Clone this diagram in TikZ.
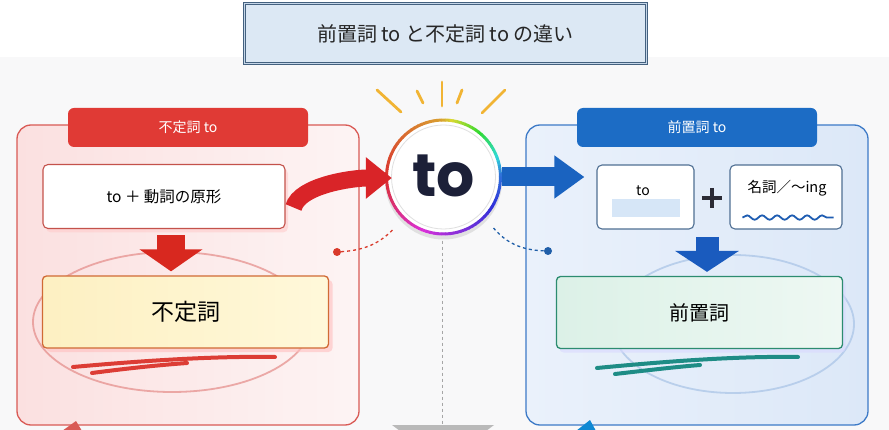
\documentclass[tikz,border=0pt]{standalone}
\usepackage{fontspec}
\usepackage{tikz}
\usepackage{xcolor}
\usetikzlibrary{positioning,shapes,shadows,arrows.meta,calc,decorations.pathmorphing}
\setmainfont{Noto Sans CJK JP}
\newfontfamily\tofont{Poppins}
\definecolor{bgc}{HTML}{F8F8F9}
\definecolor{titlefill}{HTML}{DCE8F4}
\definecolor{titleline}{HTML}{44617F}
\definecolor{titlein}{HTML}{C5D6E8}
\definecolor{lpanA}{HTML}{FBE0E0}
\definecolor{lpanB}{HTML}{FDF4F4}
\definecolor{lpanline}{HTML}{D95A55}
\definecolor{ltabc}{HTML}{E03A35}
\definecolor{lboxline}{HTML}{C4524B}
\definecolor{yellowA}{HTML}{FDF0C2}
\definecolor{yellowB}{HTML}{FFF8DA}
\definecolor{yline}{HTML}{D06A35}
\definecolor{rpanA}{HTML}{EAF1FB}
\definecolor{rpanB}{HTML}{DCE8F8}
\definecolor{rpanline}{HTML}{3D7AC7}
\definecolor{rtabc}{HTML}{1C6CC5}
\definecolor{bboxline}{HTML}{4F6F93}
\definecolor{barc}{HTML}{D6E6F7}
\definecolor{wavec}{HTML}{1F5DB2}
\definecolor{plusc}{HTML}{2B2B35}
\definecolor{greenA}{HTML}{DCF1E7}
\definecolor{greenB}{HTML}{EEF8F3}
\definecolor{greenline}{HTML}{2C8C70}
\definecolor{reddownc}{HTML}{D8281F}
\definecolor{bluedownc}{HTML}{1A5BBE}
\definecolor{redarrowc}{HTML}{D92428}
\definecolor{bluearrowc}{HTML}{1A63C0}
\definecolor{tonavy}{HTML}{1C2038}
\definecolor{rayc}{HTML}{F1B434}
\definecolor{reddotc}{HTML}{D93A2B}
\definecolor{bluedotc}{HTML}{1F5EA8}
\definecolor{tealc}{HTML}{1E8C85}

\begin{document}
\begin{tikzpicture}[x=1pt,y=1pt]
\tikzstyle{every node}+=[inner sep=0pt]
\tikzstyle{titlebox}=[draw=titleline,double=titlein,double distance=0.8pt,line width=1pt,fill=titlefill,minimum width=402,minimum height=60,font=\fontsize{20}{24}\selectfont,text=black!85]
\tikzstyle{panel}=[draw,rounded corners=14pt,line width=1.3pt,minimum width=342,minimum height=300]
\tikzstyle{tab}=[rounded corners=6pt,minimum width=240,minimum height=39,text=white,font=\fontsize{14}{16}\selectfont]
\tikzstyle{card}=[draw,fill=white,rounded corners=5pt,line width=1.1pt]
\tikzstyle{resultbox}=[draw,rounded corners=4pt,line width=1.3pt,minimum width=286,minimum height=72]
\tikzstyle{dot}=[circle,minimum size=8]
\tikzstyle{ray}=[rayc,line width=2.8pt,line cap=round]
\tikzstyle{stroke}=[line width=4pt,line cap=round]
\useasboundingbox (0,0) rectangle (889,-430);
\fill[bgc] (0,-57) rectangle (889,-430);
\node[titlebox] (title) at (445.5,-33.5) {前置詞 to と不定詞 to の違い};
\node[panel,draw=lpanline,left color=lpanA,right color=lpanB] (lpanel) at (188,-275) {};
\node[panel,draw=rpanline,left color=rpanA,right color=rpanB] (rpanel) at (697,-275) {};
\node[tab,fill=ltabc] (ltab) at (188,-127.5) {不定詞 to};
\node[tab,fill=rtabc] (rtab) at (697,-127.5) {前置詞 to};
\draw[lpanline!70,line width=1.8pt,opacity=0.7] (172,-322) ellipse [x radius=139, y radius=70];
\draw[rpanline!45,line width=1.8pt,opacity=0.7] (733,-324) ellipse [x radius=121, y radius=69];
\draw[stroke,reddownc!90] (73,-367) .. controls (150,-360) and (220,-356) .. (275,-357);
\draw[stroke,reddownc!90] (92,-373) .. controls (130,-368) and (160,-365) .. (187,-363);
\draw[stroke,tealc] (597,-368) .. controls (670,-361) and (740,-356) .. (798,-357);
\draw[stroke,tealc] (615,-374) .. controls (650,-370) and (675,-367) .. (700,-365);
\node[card,draw=lboxline,minimum width=242,minimum height=64,font=\fontsize{15.5}{18}\selectfont,drop shadow={shadow xshift=3pt,shadow yshift=-4pt,fill=red!20,opacity=0.6}] (leftbox) at (164,-196.5) {to ＋ 動詞の原形};
\node[resultbox,draw=yline,left color=yellowA,right color=yellowB,font=\fontsize{23}{26}\selectfont,drop shadow={shadow xshift=4pt,shadow yshift=-4pt,fill=red!25,opacity=0.6}] (yellowbox) at (185.5,-312) {不定詞};
\node[card,draw=bboxline,minimum width=97,minimum height=64] (tobox) at (645.5,-197) {};
\node[font=\fontsize{14}{16}\selectfont] (tolabel) at (643,-191) {to};
\node[fill=barc,minimum width=68,minimum height=18] (tobar) at (646,-208) {};
\node[minimum size=20] (plus) at (712,-198) {};
\draw[plusc,line width=3.8pt] (plus.west) -- (plus.east) (plus.north) -- (plus.south);
\node[card,draw=bboxline,minimum width=112,minimum height=64] (nounbox) at (786,-197) {};
\node[font=\fontsize{14.5}{16}\selectfont] (nountext) at (787,-188) {名詞／～ing};
\draw[wavec,line width=1.8pt,decorate,decoration={snake,amplitude=2.2pt,segment length=15pt}] ($(nounbox.south west)+(13,12)$) -- ($(nounbox.south east)+(-9,12)$);
\node[resultbox,draw=greenline,left color=greenA,right color=greenB,font=\fontsize{20}{24}\selectfont,drop shadow={shadow xshift=3pt,shadow yshift=-4pt,fill=blue!15,opacity=0.6}] (greenbox) at (699.5,-312.5) {前置詞};
\coordinate (rdtop) at ($(leftbox.south)+(7,-6)$);
\draw[reddownc,line width=28pt,-{Triangle[width=62pt,length=22pt]},shorten >=4pt] (rdtop) -- (rdtop |- yellowbox.north);
\coordinate (bdtop) at ($(plus.center)+(-5,-39)$);
\draw[bluedownc,line width=23pt,-{Triangle[width=63pt,length=21pt]},shorten >=4pt] (bdtop) -- (bdtop |- greenbox.north);
\foreach \xa/\ya/\xb/\yb in {377/90/401/112, 417/91/423/103, 442/82/442/106, 462/90/457/103, 505/90/482/113}
  \draw[ray] (\xa,-\ya) -- (\xb,-\yb);
\node[circle,fill=white,minimum size=117,drop shadow={shadow xshift=0pt,shadow yshift=-4pt,opacity=0.2}] (tocircle) at (443.5,-177) {};
\foreach \a in {0,4,...,356} {
  \pgfmathsetmacro\t{mod(540-\a,360)}
  \pgfmathsetmacro\h{\t<90 ? 0.11*\t/90 : (\t<180 ? 0.11+0.49*(\t-90)/90 : (\t<270 ? 0.6+0.18*(\t-180)/90 : 0.78+0.22*(\t-270)/90))}
  \definecolor{ringc}{hsb}{\h,0.78,0.85}
  \draw[ringc,line width=3pt] ($(tocircle.center)+(\a:57)$) arc[start angle=\a,end angle=\a+4.5,radius=57];
}
\draw[gray!25,line width=0.8pt] (tocircle.center) circle (52);
\node[font=\tofont\bfseries\fontsize{60}{60}\selectfont,text=tonavy] (totext) at ($(tocircle.center)+(0,1)$) {to};
\draw[redarrowc,line width=17pt,-{Triangle[width=40pt,length=26pt]}] ($(leftbox.east)+(8,-11)$) .. controls +(6,22) and +(-40,0) .. ($(tocircle.west)+(7,-1)$);
\draw[bluearrowc,line width=19pt,-{Triangle[width=41pt,length=30pt]}] (tocircle.east) -- ($(tocircle.east -| tobox.west)+(-12,0)$);
\node[dot,fill=reddotc] (rdot) at (337,-252) {};
\node[dot,fill=bluedotc] (bdot) at (548,-251) {};
\draw[reddotc,line width=1.3pt,dashed] (rdot) .. controls +(30,2) and +(-12,-12) .. ($(tocircle.center)+(-51,-53)$);
\draw[bluedotc,line width=1.3pt,dashed] ($(tocircle.center)+(50,-51)$) .. controls +(12,-14) and +(-28,1) .. (bdot);
\draw[gray!70,line width=1pt,dashed] ($(tocircle.south)+(-1,-5)$) -- ($(tocircle.south)+(-1,-190)$);
\fill[gray!55] (392,-425) -- (494,-425) -- (486,-431) -- (400,-431) -- cycle;
\fill[lpanline] (62,-431) -- (76,-421) -- (82,-431) -- cycle;
\fill[cyan!70!blue] (576,-431) -- (590,-420) -- (596,-431) -- cycle;
\end{tikzpicture}
\end{document}
